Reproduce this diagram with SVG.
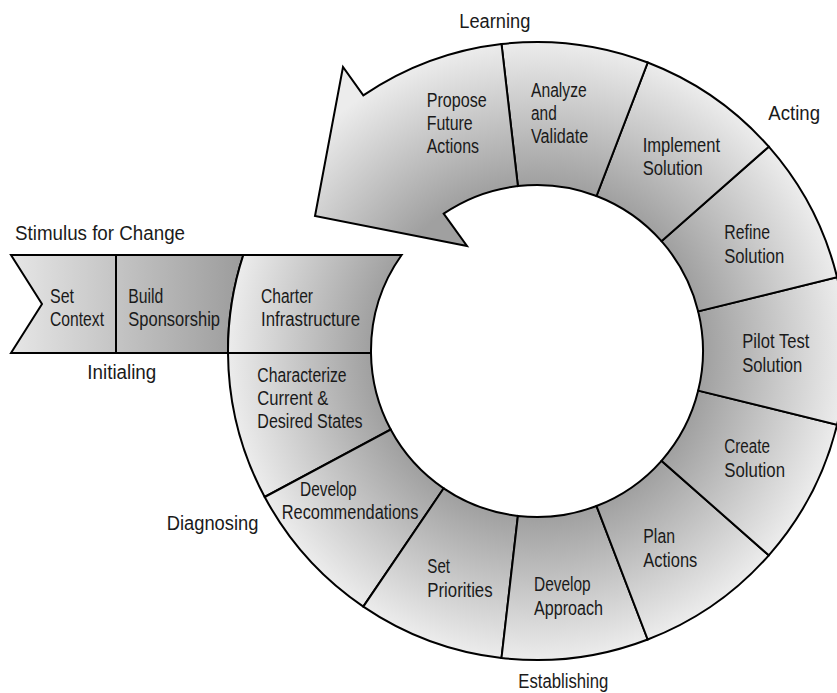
<svg xmlns="http://www.w3.org/2000/svg" width="837" height="693" viewBox="0 0 837 693">
<defs>
<radialGradient id="ringGrad" gradientUnits="userSpaceOnUse" cx="537" cy="351" r="309">
<stop offset="0.537" stop-color="#a0a0a0"/>
<stop offset="1" stop-color="#ececec"/>
</radialGradient>
<linearGradient id="bandGrad" gradientUnits="userSpaceOnUse" x1="11" y1="0" x2="243" y2="0">
<stop offset="0" stop-color="#e6e6e6"/>
<stop offset="1" stop-color="#9c9c9c"/>
</linearGradient>
</defs>
<style>
.seg{fill:url(#ringGrad);stroke:#000;stroke-width:2;stroke-linejoin:miter}
.band{fill:url(#bandGrad);stroke:#000;stroke-width:2;stroke-linejoin:miter}
text{font-family:"Liberation Sans",Arial,sans-serif;font-size:20px;fill:#1a1a1a}
</style>
<rect width="837" height="693" fill="#fff"/>
<g id="connectors"/>

<g id="set-context">
<path class="band" d="M 11 255 L 116 255 L 116 353 L 11 353 L 42 304 Z"/>
<text x="50" y="302.7" textLength="24" lengthAdjust="spacingAndGlyphs">Set</text>
<text x="50" y="326" textLength="54" lengthAdjust="spacingAndGlyphs">Context</text>
</g>
<g id="build-sponsorship">
<path class="band" d="M 116 255 L 243.3 255 A 309 309 0 0 0 228 353 L 116 353 Z"/>
<text x="128.3" y="302.7" textLength="35" lengthAdjust="spacingAndGlyphs">Build</text>
<text x="128.3" y="326" textLength="91.7" lengthAdjust="spacingAndGlyphs">Sponsorship</text>
</g>
<g id="charter-infrastructure">
<path class="seg" d="M 228 353 A 309 309 0 0 1 243.3 255 L 401.6 255 A 166 166 0 0 0 371 353 Z"/>
<text x="261" y="302.7" textLength="52" lengthAdjust="spacingAndGlyphs">Charter</text>
<text x="261" y="326" textLength="99" lengthAdjust="spacingAndGlyphs">Infrastructure</text>
</g>
<g id="characterize">
<path class="seg" d="M 264.7 497 A 309 309 0 0 1 228 353 L 371 353 A 166 166 0 0 0 390.7 429.5 Z"/>
<text x="257.3" y="381.7" textLength="89.3" lengthAdjust="spacingAndGlyphs">Characterize</text>
<text x="257.3" y="405" textLength="71" lengthAdjust="spacingAndGlyphs">Current &amp;</text>
<text x="257.3" y="428.3" textLength="105.3" lengthAdjust="spacingAndGlyphs">Desired States</text>
</g>
<g id="develop-recommendations">
<path class="seg" d="M 363.3 606.6 A 309 309 0 0 1 264.7 497 L 390.7 429.5 A 166 166 0 0 0 443.7 488.3 Z"/>
<text x="300" y="496" textLength="56.7" lengthAdjust="spacingAndGlyphs">Develop</text>
<text x="281.7" y="519" textLength="136.7" lengthAdjust="spacingAndGlyphs">Recommendations</text>
</g>
<g id="set-priorities">
<path class="seg" d="M 501.5 658 A 309 309 0 0 1 363.3 606.6 L 443.7 488.3 A 166 166 0 0 0 517.9 515.9 Z"/>
<text x="427.3" y="573.3" textLength="22.7" lengthAdjust="spacingAndGlyphs">Set</text>
<text x="427.3" y="596.7" textLength="65.3" lengthAdjust="spacingAndGlyphs">Priorities</text>
</g>
<g id="develop-approach">
<path class="seg" d="M 647.7 639.5 A 309 309 0 0 1 501.5 658 L 517.9 515.9 A 166 166 0 0 0 596.5 506 Z"/>
<text x="534" y="591" textLength="56.7" lengthAdjust="spacingAndGlyphs">Develop</text>
<text x="534" y="615" textLength="69" lengthAdjust="spacingAndGlyphs">Approach</text>
</g>
<g id="plan-actions">
<path class="seg" d="M 768.8 555.3 A 309 309 0 0 1 647.7 639.5 L 596.5 506 A 166 166 0 0 0 661.5 460.8 Z"/>
<text x="643.3" y="543.3" textLength="31.7" lengthAdjust="spacingAndGlyphs">Plan</text>
<text x="643.3" y="567.3" textLength="54" lengthAdjust="spacingAndGlyphs">Actions</text>
</g>
<g id="create-solution">
<path class="seg" d="M 837.1 424.7 A 309 309 0 0 1 768.8 555.3 L 661.5 460.8 A 166 166 0 0 0 698.2 390.6 Z"/>
<text x="724.3" y="453.3" textLength="45.7" lengthAdjust="spacingAndGlyphs">Create</text>
<text x="724.3" y="477.3" textLength="60.7" lengthAdjust="spacingAndGlyphs">Solution</text>
</g>
<g id="pilot-test-solution">
<path class="seg" d="M 837.1 277.3 A 309 309 0 0 1 837.1 424.7 L 698.2 390.6 A 166 166 0 0 0 698.2 311.4 Z"/>
<text x="742.3" y="348.3" textLength="67" lengthAdjust="spacingAndGlyphs">Pilot Test</text>
<text x="742.3" y="371.7" textLength="60" lengthAdjust="spacingAndGlyphs">Solution</text>
</g>
<g id="refine-solution">
<path class="seg" d="M 768.8 146.7 A 309 309 0 0 1 837.1 277.3 L 698.2 311.4 A 166 166 0 0 0 661.5 241.2 Z"/>
<text x="724.3" y="239.3" textLength="45.7" lengthAdjust="spacingAndGlyphs">Refine</text>
<text x="724.3" y="263.3" textLength="60" lengthAdjust="spacingAndGlyphs">Solution</text>
</g>
<g id="implement-solution">
<path class="seg" d="M 647.7 62.5 A 309 309 0 0 1 768.8 146.7 L 661.5 241.2 A 166 166 0 0 0 596.5 196 Z"/>
<text x="642.7" y="151.7" textLength="77.3" lengthAdjust="spacingAndGlyphs">Implement</text>
<text x="642.7" y="175" textLength="60" lengthAdjust="spacingAndGlyphs">Solution</text>
</g>
<g id="analyze-validate">
<path class="seg" d="M 501.5 44 A 309 309 0 0 1 647.7 62.5 L 596.5 196 A 166 166 0 0 0 517.9 186.1 Z"/>
<text x="531" y="96.7" textLength="55.7" lengthAdjust="spacingAndGlyphs">Analyze</text>
<text x="531" y="120" textLength="25.7" lengthAdjust="spacingAndGlyphs">and</text>
<text x="531" y="143.3" textLength="57.3" lengthAdjust="spacingAndGlyphs">Validate</text>
</g>
<g id="propose-future-actions">
<path class="seg" d="M 501.5 44 A 309 309 0 0 0 363.3 95.4 L 343 67 L 315 216 L 467 246 L 443.7 213.7 A 166 166 0 0 1 517.9 186.1 Z"/>
<text x="426.7" y="106.7" textLength="60" lengthAdjust="spacingAndGlyphs">Propose</text>
<text x="426.7" y="130" textLength="46" lengthAdjust="spacingAndGlyphs">Future</text>
<text x="426.7" y="153.3" textLength="52.3" lengthAdjust="spacingAndGlyphs">Actions</text>
</g>

<g id="phase-labels">
<text x="15" y="240" textLength="170" lengthAdjust="spacingAndGlyphs">Stimulus for Change</text>
<text x="87.3" y="379.3" textLength="69" lengthAdjust="spacingAndGlyphs">Initialing</text>
<text x="166.7" y="530" textLength="91.7" lengthAdjust="spacingAndGlyphs">Diagnosing</text>
<text x="518.3" y="688" textLength="90" lengthAdjust="spacingAndGlyphs">Establishing</text>
<text x="768.3" y="120" textLength="51.7" lengthAdjust="spacingAndGlyphs">Acting</text>
<text x="459.3" y="28.3" textLength="71" lengthAdjust="spacingAndGlyphs">Learning</text>
</g>
</svg>
